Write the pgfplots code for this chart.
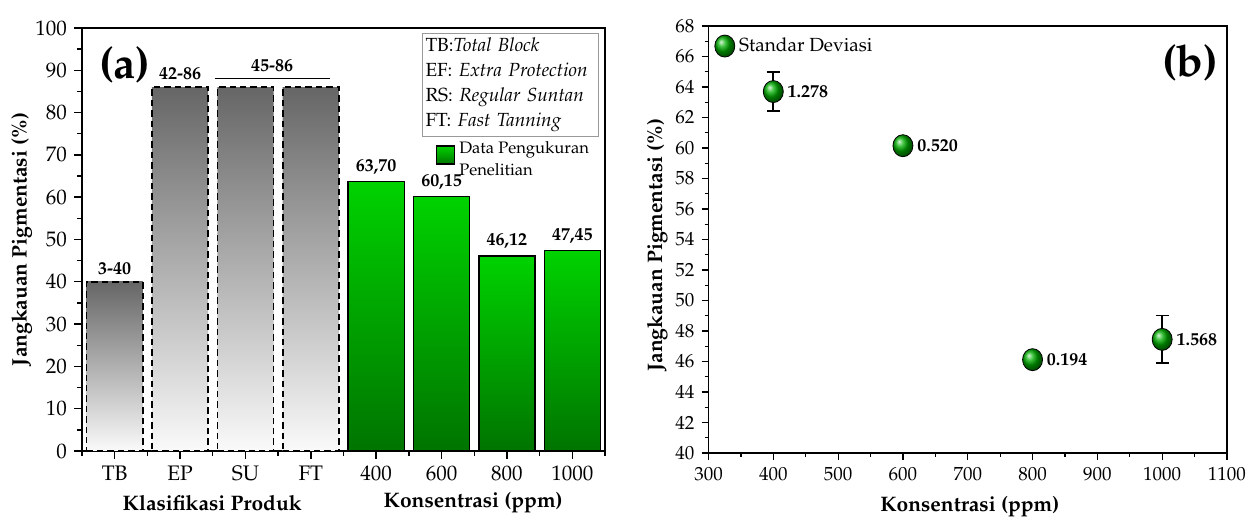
\documentclass[border=0pt]{standalone}
\usepackage[T1]{fontenc}
\usepackage{mathpazo}
\usepackage{pgfplots}
\usepackage{pgfplotstable}
\pgfplotsset{compat=1.18}
\usetikzlibrary{shadings}

\definecolor{ggreenT}{RGB}{0,210,0}
\definecolor{ggreenB}{RGB}{0,116,0}
\definecolor{balgreen}{RGB}{0,175,0}

\pgfplotsset{
  greenlegend/.style={legend image code/.code={\draw[##1] (0pt,-2pt) rectangle (9pt,7pt);}},
  graybar/.style={forget plot, ybar, bar width=0.86, bar shift=0pt, draw=black, line width=0.8pt,
    dash pattern=on 3.2pt off 2pt, top color=black!60, bottom color=black!2},
  greenbar/.style={ybar, bar width=0.86, bar shift=0pt, draw=black, line width=0.7pt,
    top color=ggreenT, bottom color=ggreenB},
}

\pgfplotstableread{
x y lab
0 40 3-40
1 86 42-86
2.41 88 45-86
}\rangetab

\pgfplotstableread{
x y lab
4 63.70 63,70
5 60.15 60,15
6 46.12 46,12
7 47.45 47,45
}\greentab

\pgfplotstableread{
x y err lab
400 63.70 1.278 1.278
600 60.15 0.520 0.520
800 46.12 0.194 0.194
1000 47.45 1.568 1.568
}\rtab

\begin{document}
\begin{tikzpicture}
\useasboundingbox (0,0) rectangle (623.5pt,259pt);

% ---------------- (a) ----------------
\begin{axis}[
  at={(41pt,33.5pt)}, anchor=south west,
  scale only axis, width=261.5pt, height=211.5pt,
  xmin=-0.5, xmax=7.5, ymin=0, ymax=100,
  xtick={0,...,7}, xticklabels={TB,EP,SU,FT,400,600,800,1000},
  minor xtick={-0.5,0.5,...,7.5},
  ytick={0,10,...,100}, minor ytick={5,15,...,95},
  tick align=outside, xtick pos=lower, ytick pos=left,
  major tick length=4pt, minor tick length=2.5pt,
  tick style={black, line width=0.7pt},
  axis line style={line width=0.9pt},
  tick label style={font=\fontsize{10.5}{12}\selectfont},
  ylabel={Jangkauan Pigmentasi (\%)},
  ylabel style={font=\bfseries\fontsize{10.5}{12}\selectfont, at={(axis description cs:-0.115,0.5)}, anchor=center},
  legend style={at={(axis description cs:0.676,0.742)}, anchor=north west, draw=none, fill=none, inner sep=0pt,
    font=\fontsize{8.3}{11}\selectfont, nodes={align=left}},
  legend cell align=left,
  clip=false,
]
\addplot[graybar] coordinates {(0,40)};
\addplot[graybar] coordinates {(1,86) (2,86) (3,86)};
\addplot[greenbar, greenlegend] coordinates {(4,63.70)};
\addlegendentry{Data Pengukuran\\Penelitian}
\addplot[greenbar, forget plot] coordinates {(5,60.15)};
\addplot[greenbar, forget plot] coordinates {(6,46.12)};
\addplot[greenbar, forget plot] coordinates {(7,47.45)};
\addplot[forget plot, draw=none, mark=none, nodes near coords, point meta=explicit symbolic,
  nodes near coords style={font=\bfseries\fontsize{9}{10}\selectfont, text=black}]
  table[x=x,y=y,meta=lab]{\rangetab};
\addplot[forget plot, draw=none, mark=none, nodes near coords, point meta=explicit symbolic,
  nodes near coords style={font=\bfseries\fontsize{9}{10}\selectfont, text=black}]
  table[x=x,y=y,meta=lab]{\greentab};
\draw[line width=0.6pt] (axis cs:1.53,88) -- (axis cs:3.30,88);
\node[draw=gray!80, line width=0.6pt, anchor=north west, align=left, text width=85pt,
  inner xsep=1.5pt, inner ysep=2.2pt, font=\fontsize{9.5}{12.5}\selectfont]
  at (axis description cs:0.650,0.988)
  {TB:\textit{Total Block}\\EF: \textit{Extra Protection}\\RS: \textit{Regular Suntan}\\FT: \textit{Fast Tanning}};
\node[font=\bfseries\fontsize{22}{26}\selectfont] at (axis description cs:0.082,0.913) {(a)};
\node[font=\bfseries\fontsize{10.5}{12}\selectfont] at (axis description cs:0.249,-0.123) {Klasifikasi Produk};
\node[font=\bfseries\fontsize{10.5}{12}\selectfont] at (axis description cs:0.748,-0.123) {Konsentrasi (ppm)};
\end{axis}

% ---------------- (b) ----------------
\begin{axis}[
  at={(354.25pt,32.5pt)}, anchor=south west,
  scale only axis, width=259.25pt, height=213.5pt,
  xmin=300, xmax=1100, ymin=40, ymax=68,
  xtick distance=100, ytick distance=2, minor x tick num=1, minor y tick num=1,
  tick align=outside, xtick pos=lower, ytick pos=left,
  major tick length=3.5pt, minor tick length=2pt,
  tick style={black, line width=0.6pt},
  axis line style={line width=0.9pt},
  tick label style={font=\fontsize{9.5}{11}\selectfont},
  /pgf/number format/1000 sep={},
  xlabel={Konsentrasi (ppm)},
  xlabel style={font=\bfseries\fontsize{10.5}{12}\selectfont, at={(axis description cs:0.504,-0.126)}, anchor=center},
  ylabel={Jangkauan Pigmentasi (\%)},
  ylabel style={font=\bfseries\fontsize{10.5}{12}\selectfont, at={(axis description cs:-0.099,0.487)}, anchor=center},
  legend style={at={(axis description cs:0.0106,0.953)}, anchor=west, draw=none, fill=none, inner sep=0pt,
    font=\fontsize{9.5}{11}\selectfont},
  clip=false,
]
\addplot[only marks, mark=ball, mark size=5pt, mark options={ball color=balgreen, yscale=1.1},
  error bars/.cd, y dir=both, y explicit,
  error bar style={black, line width=0.9pt},
  error mark options={rotate=90, black, mark size=3.2pt, line width=0.9pt}]
  table[x=x,y=y,y error=err]{\rtab};
\addlegendentry{Standar Deviasi}
\addplot[forget plot, only marks, mark=none, nodes near coords, point meta=explicit symbolic,
  nodes near coords style={anchor=west, xshift=6.5pt, inner sep=0.5pt, font=\bfseries\fontsize{9}{10}\selectfont, text=black}]
  table[x=x,y=y,meta=lab]{\rtab};
\node[font=\bfseries\fontsize{22}{26}\selectfont] at (axis description cs:0.929,0.913) {(b)};
\end{axis}
\end{tikzpicture}
\end{document}
